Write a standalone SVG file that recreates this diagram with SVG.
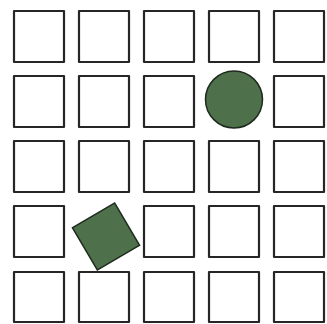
<svg xmlns="http://www.w3.org/2000/svg" width="327" height="324" viewBox="0 0 327 324">
<style>
.b{fill:#fff;stroke:#262626;stroke-width:2.2;stroke-linejoin:round}
.g{fill:#4e714b;stroke:#1e2a1e;stroke-width:1.5}
</style>
<rect width="327" height="324" fill="#fff"/>
<g id="r1">
<rect id="s11" class="b" x="14" y="11" width="50" height="51"/>
<rect id="s12" class="b" x="79" y="11" width="50" height="51"/>
<rect id="s13" class="b" x="144" y="11" width="50" height="51"/>
<rect id="s14" class="b" x="209" y="11" width="50" height="51"/>
<rect id="s15" class="b" x="274" y="11" width="50" height="51"/>
</g>
<g id="r2">
<rect id="s21" class="b" x="14" y="76" width="50" height="51"/>
<rect id="s22" class="b" x="79" y="76" width="50" height="51"/>
<rect id="s23" class="b" x="144" y="76" width="50" height="51"/>
<circle id="c24" class="g" cx="234" cy="99.5" r="28.5"/>
<rect id="s25" class="b" x="274" y="76" width="50" height="51"/>
</g>
<g id="r3">
<rect id="s31" class="b" x="14" y="141" width="50" height="51"/>
<rect id="s32" class="b" x="79" y="141" width="50" height="51"/>
<rect id="s33" class="b" x="144" y="141" width="50" height="51"/>
<rect id="s34" class="b" x="209" y="141" width="50" height="51"/>
<rect id="s35" class="b" x="274" y="141" width="50" height="51"/>
</g>
<g id="r4">
<rect id="s41" class="b" x="14" y="206" width="50" height="51"/>
<rect id="q42" class="g" x="-24.5" y="-24.5" width="49" height="49" transform="translate(106 236.5) rotate(-30.5)"/>
<rect id="s43" class="b" x="144" y="206" width="50" height="51"/>
<rect id="s44" class="b" x="209" y="206" width="50" height="51"/>
<rect id="s45" class="b" x="274" y="206" width="50" height="51"/>
</g>
<g id="r5">
<rect id="s51" class="b" x="14" y="272" width="50" height="50"/>
<rect id="s52" class="b" x="79" y="272" width="50" height="50"/>
<rect id="s53" class="b" x="144" y="272" width="50" height="50"/>
<rect id="s54" class="b" x="209" y="272" width="50" height="50"/>
<rect id="s55" class="b" x="274" y="272" width="50" height="50"/>
</g>
<g id="connectors"/>
</svg>
